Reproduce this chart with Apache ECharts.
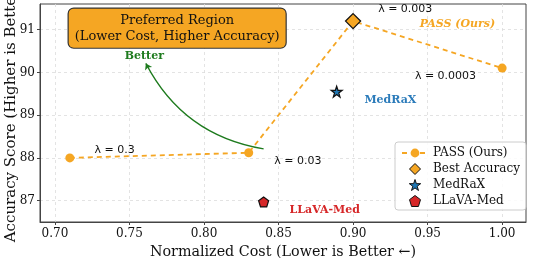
<!DOCTYPE html>
<html><head><meta charset="utf-8">
<script src="https://cdn.jsdelivr.net/npm/echarts@6/dist/echarts.min.js"></script>
<style>html,body{margin:0;padding:0;background:#fff}#c{width:535px;height:258px}</style>
</head><body><div id="c"></div>
<script>
// Data
const passCost = [0.71, 0.83, 0.90, 1.00];
const passAcc = [88.0, 88.12, 91.2, 90.1];
const passLambda = ['λ = 0.3', 'λ = 0.03', 'λ = 0.003', 'λ = 0.0003'];
const bestAcc = [[0.90, 91.2]];
const medrax = [[0.889, 89.55]];
const llava = [[0.84, 86.97]];
const xTicks = [0.70, 0.75, 0.80, 0.85, 0.90, 0.95, 1.00];
const yTicks = [87, 88, 89, 90, 91];

// annotation anchors (data coords)
const lambdaPos = [[0.740, 88.19], [0.863, 87.93], [0.935, 91.47], [0.962, 89.91]];
const textNotes = [
  {name: 'PASS (Ours)', pos: [0.970, 91.12], color: '#f5a623', style: 'italic'},
  {name: 'MedRaX', pos: [0.925, 89.35], color: '#2b7bba', style: 'normal'},
  {name: 'LLaVA-Med', pos: [0.881, 86.77], color: '#d62728', style: 'normal'},
  {name: 'Better', pos: [0.760, 90.37], color: '#1e7b1e', style: 'normal'}
];
const arrowFrom = [0.840, 88.21];
const arrowTo = [0.761, 90.21];
const boxPos = [0.782, 91.035];

const ORANGE = '#f5a623';
const SERIF = 'DejaVu Serif';
const STAR = 'path://M50,0 L61.8,36 L99,36 L69,58.5 L80,95 L50,72.5 L20,95 L31,58.5 L1,36 L38.2,36 Z';
const PENT = 'path://M50,0 L100,38 L81,100 L19,100 L0,38 Z';
const DIAM = 'path://M50,0 L100,50 L50,100 L0,50 Z';

const chart = echarts.init(document.getElementById('c'));
const gridLine = {show: true, lineStyle: {color: '#dcdcdc', type: [3, 3], width: 0.8}};
chart.setOption({
  animation: false,
  grid: {left: 40, right: 9, top: 4, bottom: 36, show: true, borderColor: '#444', borderWidth: 1,
    containLabel: false, outerBoundsMode: 'none'},
  xAxis: {
    type: 'value', min: 0.69, max: 1.016,
    name: 'Normalized Cost (Lower is Better ←)', nameLocation: 'middle', nameGap: 19,
    nameTextStyle: {fontFamily: SERIF, fontSize: 14.3, color: '#111'},
    axisLine: {show: true, lineStyle: {color: '#444'}},
    axisTick: {show: true, customValues: xTicks, length: 3, lineStyle: {color: '#444'}},
    axisLabel: {customValues: xTicks, fontFamily: SERIF, fontSize: 12, color: '#111', margin: 6,
      formatter: v => v.toFixed(2)},
    splitLine: gridLine
  },
  yAxis: {
    type: 'value', min: 86.5, max: 91.6,
    name: 'Accuracy Score (Higher is Better)', nameLocation: 'middle', nameGap: 21, nameMoveOverlap: false,
    nameTextStyle: {fontFamily: SERIF, fontSize: 15, color: '#111'},
    axisLine: {show: true, lineStyle: {color: '#444'}},
    axisTick: {show: true, customValues: yTicks, length: 3, lineStyle: {color: '#444'}},
    axisLabel: {customValues: yTicks, fontFamily: SERIF, fontSize: 12, color: '#111', margin: 5},
    splitLine: gridLine
  },
  legend: {
    left: 395, top: 142, orient: 'vertical', itemGap: 4, itemWidth: 26, itemHeight: 11,
    padding: [5, 6, 3, 6],
    borderColor: '#ccc', borderWidth: 1, borderRadius: 3, backgroundColor: 'rgba(255,255,255,0.85)',
    textStyle: {fontFamily: SERIF, fontSize: 12, color: '#111'},
    data: [
      {name: 'PASS (Ours)', itemStyle: {borderWidth: 0}},
      {name: 'Best Accuracy', itemStyle: {borderWidth: 1}},
      {name: 'MedRaX', itemStyle: {borderWidth: 1}},
      {name: 'LLaVA-Med', itemStyle: {borderWidth: 1}}
    ]
  },
  series: [
    {
      name: 'PASS (Ours)', type: 'line', data: passCost.map((c, i) => [c, passAcc[i]]),
      symbol: 'circle', symbolSize: 9, z: 3,
      lineStyle: {color: ORANGE, width: 1.8, type: [5, 4]},
      itemStyle: {color: ORANGE, opacity: 1}
    },
    {
      name: 'Best Accuracy', type: 'scatter', data: bestAcc, symbol: DIAM, symbolSize: 15, z: 4,
      symbolKeepAspect: true,
      itemStyle: {color: ORANGE, borderColor: '#111', borderWidth: 1.3, opacity: 1}
    },
    {
      name: 'MedRaX', type: 'scatter', data: medrax, symbol: STAR, symbolSize: 11, z: 4,
      itemStyle: {color: '#1f77b4', borderColor: '#111', borderWidth: 1.2, opacity: 1}
    },
    {
      name: 'LLaVA-Med', type: 'scatter', data: llava, symbol: PENT, symbolSize: 10, z: 4,
      itemStyle: {color: '#d62728', borderColor: '#111', borderWidth: 1.2, opacity: 1}
    },
    {
      name: 'lambda', type: 'scatter', symbolSize: 0, silent: true, z: 5,
      itemStyle: {opacity: 1},
      data: lambdaPos.map((p, i) => ({value: p, label: {formatter: passLambda[i]}})),
      label: {show: true, position: 'inside', fontFamily: 'DejaVu Sans', fontSize: 11, color: '#111'}
    },
    {
      name: 'notes', type: 'scatter', symbolSize: 0, silent: true, z: 5,
      itemStyle: {opacity: 1},
      data: textNotes.map(n => ({value: n.pos, label: {formatter: n.name, color: n.color, fontStyle: n.style}})),
      label: {show: true, position: 'inside', fontFamily: SERIF, fontWeight: 'bold', fontSize: 11}
    },
    {
      name: 'box', type: 'scatter', symbolSize: 0, silent: true, z: 6,
      itemStyle: {opacity: 1},
      data: [{value: boxPos}],
      label: {show: true, position: 'inside', formatter: 'Preferred Region\n(Lower Cost, Higher Accuracy)',
        fontFamily: SERIF, fontSize: 13, lineHeight: 16, color: '#111', align: 'center',
        backgroundColor: ORANGE, borderColor: '#333', borderWidth: 1.2, borderRadius: 5, padding: [4, 6, 3, 6]}
    },
    {
      name: 'arrow', type: 'lines', coordinateSystem: 'cartesian2d', silent: true, z: 5,
      symbol: ['none', 'arrow'], symbolSize: 6,
      lineStyle: {color: '#1e7b1e', width: 1.3, curveness: 0.25, opacity: 1},
      data: [{coords: [arrowFrom, arrowTo]}]
    }
  ]
});
</script></body></html>
